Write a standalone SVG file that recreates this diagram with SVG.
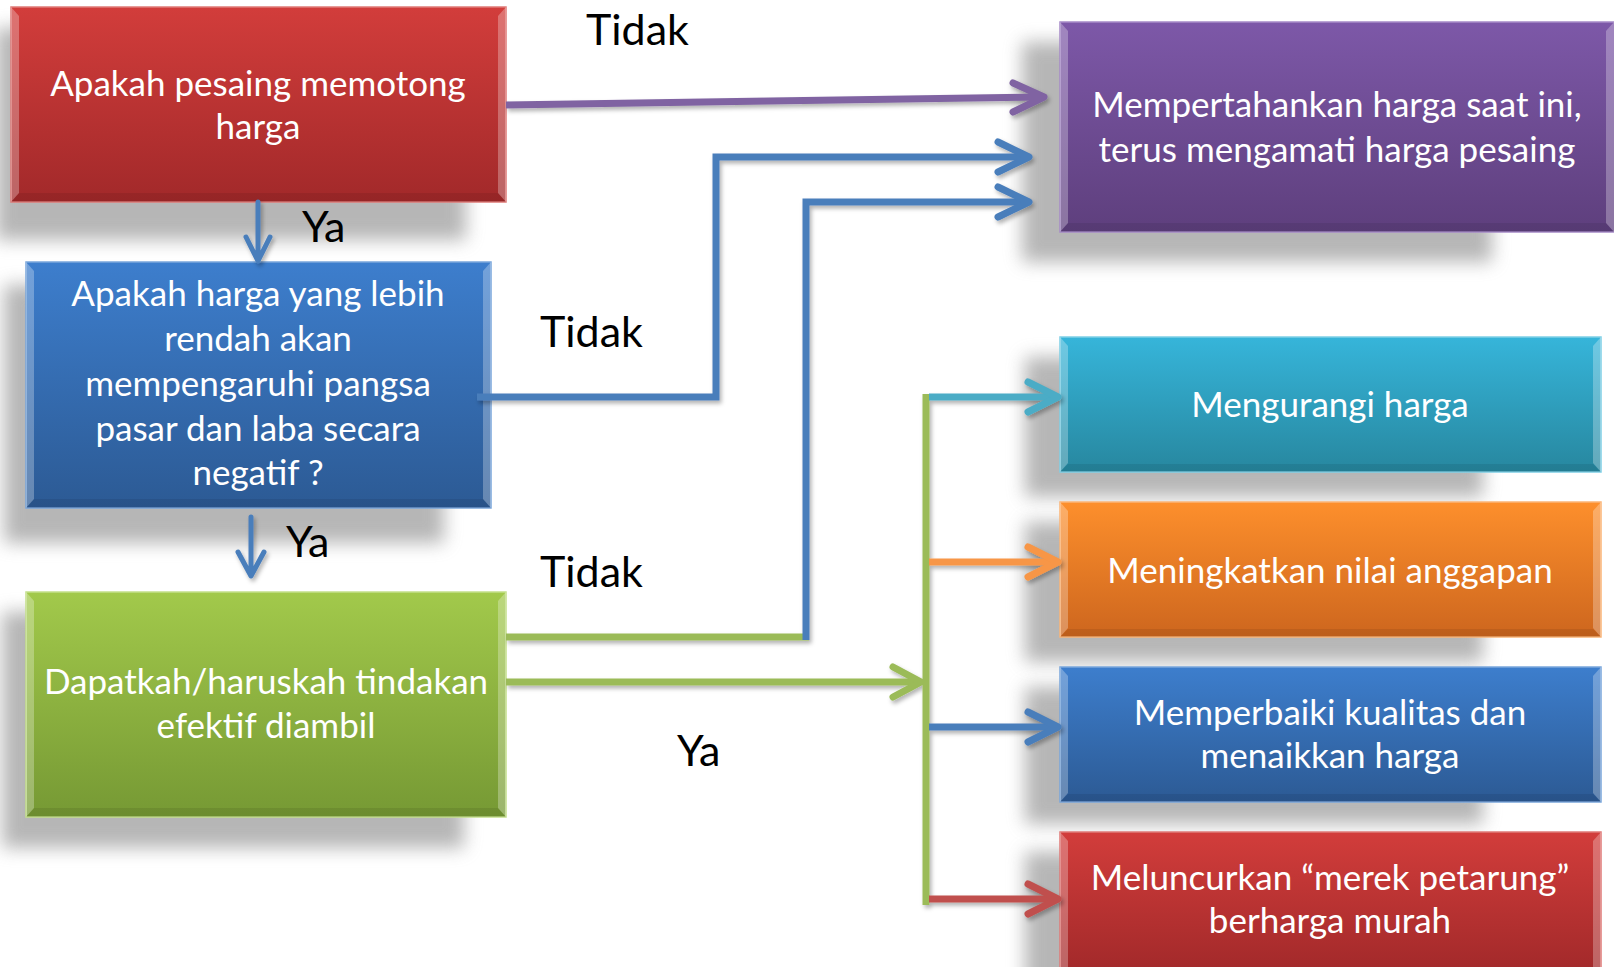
<svg xmlns="http://www.w3.org/2000/svg" width="1614" height="967" viewBox="0 0 1614 967">
<defs>
<style>
.bt{font-family:Lato,"Liberation Sans",sans-serif;font-size:35px;fill:#ffffff;text-anchor:middle}
.lb{font-family:Lato,"Liberation Sans",sans-serif;font-size:43px;fill:#000000}
.sh{fill:#8a8a8a;opacity:0.62;filter:url(#blur)}
.bl{fill:#ffffff;opacity:0.28}
.bd{fill:#000000;opacity:0.08}
.bx{stroke-width:1.5}
.ln{fill:none;stroke-width:7;stroke-linejoin:miter}
.ah{fill:none;stroke-width:7;stroke-linecap:round;stroke-linejoin:round}
.sm{fill:none;stroke-width:5;stroke-linecap:round;stroke-linejoin:round}
</style>
<filter id="blur" x="-20%" y="-30%" width="140%" height="160%"><feGaussianBlur stdDeviation="9"/></filter>
<filter id="lsh" x="-5%" y="-5%" width="110%" height="110%"><feDropShadow dx="2" dy="3" stdDeviation="2" flood-color="#000" flood-opacity="0.3"/></filter>
<linearGradient id="gRed" x1="0" y1="0" x2="0" y2="1"><stop offset="0" stop-color="#d23d3b"/><stop offset="1" stop-color="#a2292a"/></linearGradient>
<linearGradient id="gPur" x1="0" y1="0" x2="0" y2="1"><stop offset="0" stop-color="#7d58a8"/><stop offset="1" stop-color="#5e3f7d"/></linearGradient>
<linearGradient id="gBlu" x1="0" y1="0" x2="0" y2="1"><stop offset="0" stop-color="#3d7ecd"/><stop offset="1" stop-color="#2c5a94"/></linearGradient>
<linearGradient id="gGrn" x1="0" y1="0" x2="0" y2="1"><stop offset="0" stop-color="#a2c94b"/><stop offset="1" stop-color="#769934"/></linearGradient>
<linearGradient id="gCya" x1="0" y1="0" x2="0" y2="1"><stop offset="0" stop-color="#36b5da"/><stop offset="1" stop-color="#27879f"/></linearGradient>
<linearGradient id="gOra" x1="0" y1="0" x2="0" y2="1"><stop offset="0" stop-color="#fd8f2c"/><stop offset="1" stop-color="#cd661e"/></linearGradient>
</defs>
<rect width="1614" height="967" fill="#ffffff"/>

<g id="shadows">
<rect class="sh" x="-4" y="28" width="470" height="212"/>
<rect class="sh" x="4" y="285" width="440" height="258"/>
<rect class="sh" x="2" y="612" width="462" height="236"/>
<rect class="sh" x="1022" y="42" width="470" height="220"/>
<rect class="sh" x="1025" y="357" width="458" height="140"/>
<rect class="sh" x="1025" y="522" width="458" height="140"/>
<rect class="sh" x="1025" y="687" width="458" height="137"/>
<rect class="sh" x="1025" y="852" width="458" height="140"/>
</g>

<g id="node-q1">
<rect class="bx" x="11" y="7" width="495" height="195" fill="url(#gRed)" stroke="#e07b78"/>
<polygon class="bl" points="11,7 19,16 19,193 11,202"/>
<polygon class="bl" points="506,7 498,16 498,193 506,202"/>
<polygon class="bd" points="11,202 19,193 498,193 506,202"/>
<text class="bt" x="258" y="96">Apakah pesaing memotong</text>
<text class="bt" x="258" y="139">harga</text>
</g>

<g id="node-q2">
<rect class="bx" x="26" y="262" width="465" height="246" fill="url(#gBlu)" stroke="#7aa6dc"/>
<polygon class="bl" points="26,262 34,271 34,499 26,508"/>
<polygon class="bl" points="491,262 483,271 483,499 491,508"/>
<polygon class="bd" points="26,508 34,499 483,499 491,508"/>
<text class="bt" x="258" y="306">Apakah harga yang lebih</text>
<text class="bt" x="258" y="351">rendah akan</text>
<text class="bt" x="258" y="396">mempengaruhi pangsa</text>
<text class="bt" x="258" y="441">pasar dan laba secara</text>
<text class="bt" x="258" y="485">negatif ?</text>
</g>

<g id="node-q3">
<rect class="bx" x="26" y="592" width="480" height="225" fill="url(#gGrn)" stroke="#c3df8a"/>
<polygon class="bl" points="26,592 34,601 34,808 26,817"/>
<polygon class="bl" points="506,592 498,601 498,808 506,817"/>
<polygon class="bd" points="26,817 34,808 498,808 506,817"/>
<text class="bt" x="266" y="694">Dapatkah/haruskah tindakan</text>
<text class="bt" x="266" y="738">efektif diambil</text>
</g>

<g id="node-keep">
<rect class="bx" x="1060" y="22" width="556" height="210" fill="url(#gPur)" stroke="#a68bc8"/>
<polygon class="bl" points="1060,22 1068,31 1068,223 1060,232"/>
<polygon class="bl" points="1614,22 1606,31 1606,223 1614,232"/>
<polygon class="bd" points="1060,232 1068,223 1606,223 1614,232"/>
<text class="bt" x="1337" y="117">Mempertahankan harga saat ini,</text>
<text class="bt" x="1337" y="162">terus mengamati harga pesaing</text>
</g>

<g id="node-reduce">
<rect class="bx" x="1060" y="337" width="541" height="135" fill="url(#gCya)" stroke="#7fcfe6"/>
<polygon class="bl" points="1060,337 1068,346 1068,463 1060,472"/>
<polygon class="bl" points="1601,337 1593,346 1593,463 1601,472"/>
<polygon class="bd" points="1060,472 1068,464 1593,464 1601,472"/>
<text class="bt" x="1330" y="417">Mengurangi harga</text>
</g>

<g id="node-value">
<rect class="bx" x="1060" y="502" width="541" height="135" fill="url(#gOra)" stroke="#fbb577"/>
<polygon class="bl" points="1060,502 1068,511 1068,628 1060,637"/>
<polygon class="bl" points="1601,502 1593,511 1593,628 1601,637"/>
<polygon class="bd" points="1060,637 1068,629 1593,629 1601,637"/>
<text class="bt" x="1330" y="583">Meningkatkan nilai anggapan</text>
</g>

<g id="node-quality">
<rect class="bx" x="1060" y="667" width="541" height="135" fill="url(#gBlu)" stroke="#7aa6dc"/>
<polygon class="bl" points="1060,667 1068,676 1068,793 1060,802"/>
<polygon class="bl" points="1601,667 1593,676 1593,793 1601,802"/>
<polygon class="bd" points="1060,802 1068,794 1593,794 1601,802"/>
<text class="bt" x="1330" y="725">Memperbaiki kualitas dan</text>
<text class="bt" x="1330" y="768">menaikkan harga</text>
</g>

<g id="node-fighter">
<rect class="bx" x="1060" y="832" width="541" height="140" fill="url(#gRed)" stroke="#e07b78"/>
<polygon class="bl" points="1060,832 1068,841 1068,967 1060,972"/>
<polygon class="bl" points="1601,832 1593,841 1593,967 1601,972"/>
<text class="bt" x="1330" y="890">Meluncurkan “merek petarung”</text>
<text class="bt" x="1330" y="933">berharga murah</text>
</g>

<g id="connectors" filter="url(#lsh)">
<path class="sm" stroke="#4a7ebb" d="M258,202 V259 M246,237 L258,261 L270,237"/>
<path class="sm" stroke="#4a7ebb" d="M251,517 V574 M238,552 L251,576 L264,552"/>
<path class="ln" stroke="#8064a2" d="M506,105 L1042,97"/>
<path class="ah" stroke="#8064a2" d="M1013,83 L1044,97 L1013,112"/>
<path class="ln" stroke="#4a7ebb" d="M477,397 H716 V157 H1026"/>
<path class="ah" stroke="#4a7ebb" d="M998,142 L1029,157 L998,172"/>
<path class="ln" stroke="#9bbb59" d="M506,637 H809"/>
<path class="ln" stroke="#4a7ebb" d="M806,640 V202 H1026"/>
<path class="ah" stroke="#4a7ebb" d="M998,187 L1029,202 L998,217"/>
<path class="ln" stroke="#9bbb59" d="M506,682 H919"/>
<path class="ah" stroke="#9bbb59" d="M893,667 L921,682 L893,697"/>
<path class="ln" stroke="#9bbb59" d="M926,394 V905"/>
<path class="ln" stroke="#4bacc6" d="M929,397 H1056"/>
<path class="ah" stroke="#4bacc6" d="M1028,382 L1058,397 L1028,412"/>
<path class="ln" stroke="#f79646" d="M929,562 H1056"/>
<path class="ah" stroke="#f79646" d="M1028,547 L1058,562 L1028,577"/>
<path class="ln" stroke="#4a7ebb" d="M929,727 H1056"/>
<path class="ah" stroke="#4a7ebb" d="M1028,712 L1058,727 L1028,742"/>
<path class="ln" stroke="#c0504d" d="M929,899 H1056"/>
<path class="ah" stroke="#c0504d" d="M1028,884 L1058,899 L1028,914"/>
</g>

<g id="labels">
<text class="lb" x="586" y="45">Tidak</text>
<text class="lb" x="540" y="347">Tidak</text>
<text class="lb" x="540" y="587">Tidak</text>
<text class="lb" x="302" y="242">Ya</text>
<text class="lb" x="286" y="557">Ya</text>
<text class="lb" x="677" y="766">Ya</text>
</g>
</svg>
